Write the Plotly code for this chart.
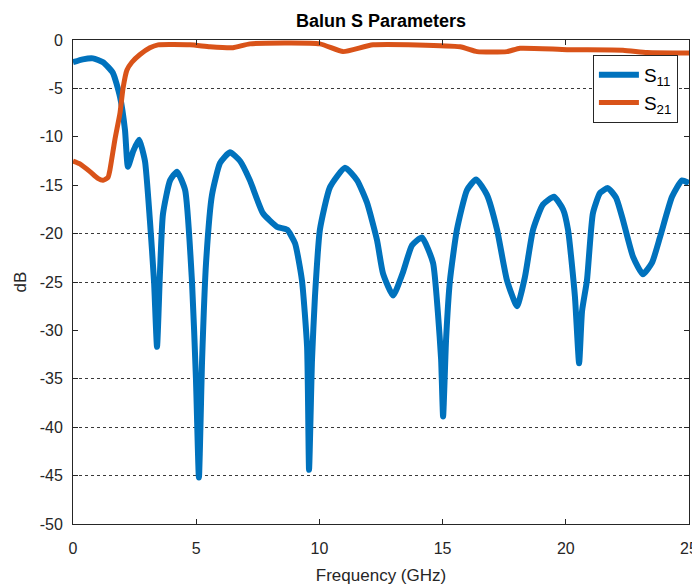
import plotly.graph_objects as go

# S11 (dB) vs frequency (GHz)
s11_freq = [0.0, 0.4, 0.81, 1.22, 1.62, 1.91, 2.11, 2.23, 2.44, 2.68, 2.92, 3.12, 3.29, 3.41, 3.53, 3.65,
            3.94, 4.22, 4.55, 4.83, 4.99, 5.11, 5.24, 5.40, 5.64, 5.97, 6.37, 6.78, 7.18, 7.71, 8.28,
            8.69, 9.01, 9.29, 9.50, 9.58, 9.70, 9.82, 10.02, 10.43, 11.04, 11.53, 11.93, 12.34, 12.58,
            12.99, 13.39, 13.76, 14.16, 14.61, 14.81, 14.94, 15.02, 15.14, 15.30, 15.58, 15.99, 16.36,
            16.80, 17.21, 17.61, 18.02, 18.34, 18.67, 19.07, 19.52, 19.89, 20.09, 20.37, 20.54, 20.66,
            20.86, 21.10, 21.39, 21.71, 22.04, 22.32, 22.73, 23.13, 23.50, 23.82, 24.31, 24.72, 25.0]
s11_db = [-2.3, -2.0, -1.9, -2.3, -3.4, -5.9, -9.3, -13.1, -11.5, -10.3, -12.5, -18.6, -25.0, -31.7, -24.0, -18.0,
          -14.5, -13.6, -15.5, -25.0, -35.0, -45.2, -33.0, -23.0, -16.0, -12.7, -11.6, -12.5, -14.5, -17.9, -19.3,
          -19.6, -21.0, -24.8, -31.7, -44.4, -33.0, -26.5, -19.6, -15.2, -13.2, -14.5, -16.8, -20.7, -24.1,
          -26.4, -24.0, -21.2, -20.4, -23.0, -28.2, -33.0, -38.9, -31.0, -24.8, -19.6, -15.5, -14.4,
          -16.0, -19.6, -24.8, -27.5, -24.5, -19.6, -17.0, -16.2, -17.5, -19.6, -26.5, -33.4, -28.0,
          -24.8, -17.9, -15.8, -15.3, -16.3, -18.6, -22.4, -24.2, -23.0, -20.4, -16.2, -14.5, -14.8]

# S21 (dB) vs frequency (GHz)
s21_freq = [0.0, 0.28, 0.69, 1.01, 1.22, 1.42, 1.50, 1.70, 1.91, 2.03, 2.19, 2.39, 2.72, 3.12, 3.45,
            4.75, 5.56, 6.49, 7.18, 10.02, 10.96, 12.18, 15.71, 16.40, 17.61, 18.14, 20.05, 22.32,
            23.30, 25.0]
s21_db = [-12.5, -12.8, -13.6, -14.3, -14.5, -14.2, -13.4, -10.3, -7.5, -5.0, -3.1, -2.3, -1.5, -0.8, -0.5,
          -0.5, -0.7, -0.8, -0.4, -0.4, -1.2, -0.5, -0.7, -1.2, -1.2, -0.85, -1.0, -1.05,
          -1.3, -1.35]

x_ticks = [0, 5, 10, 15, 20, 25]
x_ticklabels = ["0", "5", "10", "15", "20", "25"]
y_ticks = [0, -5, -10, -15, -20, -25, -30, -35, -40, -45, -50]
y_ticklabels = ["0", "-5", "-10", "-15", "-20", "-25", "-30", "-35", "-40", "-45", "-50"]
grid_vals = [-5, -20, -25, -35, -40, -45]

AX = "#262626"
FONT = "Liberation Sans Narrow, Arial Narrow, Liberation Sans, Arial, sans-serif"

fig = go.Figure()
fig.add_trace(go.Scatter(x=s11_freq, y=s11_db, mode="lines", name="S<sub>11</sub>",
                         line=dict(color="#0072BD", width=6, shape="spline", smoothing=0.5)))
fig.add_trace(go.Scatter(x=s21_freq, y=s21_db, mode="lines", name="S<sub>21</sub>",
                         line=dict(color="#D95319", width=5, shape="spline", smoothing=0.5)))

fig.update_layout(
    width=692, height=578,
    margin=dict(l=65, r=11, t=32, b=62),
    paper_bgcolor="white", plot_bgcolor="white",
    title=dict(text="<b>Balun S Parameters</b>", xref="paper", x=0.5, xanchor="center",
               yref="container", y=0.989, yanchor="top",
               font=dict(family="Liberation Sans, Arial, sans-serif", size=18, color="black")),
    font=dict(family=FONT, color=AX),
    xaxis=dict(range=[0, 25], tickvals=x_ticks, ticktext=x_ticklabels, ticks="inside", ticklen=5,
               tickcolor=AX, showline=True, linecolor=AX, linewidth=1, mirror="ticks", showgrid=False,
               zeroline=False, automargin=False, ticklabelstandoff=10, ticklabeloverflow="allow",
               tickfont=dict(size=16, color=AX, family=FONT),
               title=dict(text="Frequency (GHz)", font=dict(size=17, family=FONT, color=AX), standoff=12)),
    yaxis=dict(range=[-50, 0], tickvals=y_ticks, ticktext=y_ticklabels, ticks="inside", ticklen=5,
               tickcolor=AX, showline=True, linecolor=AX, linewidth=1, mirror="ticks", showgrid=False,
               zeroline=False, automargin=False, ticklabelstandoff=6,
               tickfont=dict(size=16, color=AX, family=FONT),
               title=dict(text="dB", font=dict(size=17, family=FONT, color=AX), standoff=8)),
    yaxis2=dict(range=[-50, 0], overlaying="y", tickvals=grid_vals, showticklabels=False,
                ticks="", showgrid=True, gridcolor="#3a3a3a", gridwidth=1, griddash="dot",
                zeroline=False, showline=False, automargin=False, layer="below traces"),
    legend=dict(x=0.982, y=0.969, xanchor="right", yanchor="top", bgcolor="white",
                bordercolor=AX, borderwidth=1, font=dict(size=19, family=FONT, color="black"),
                itemwidth=40),
    showlegend=True,
)
fig.add_trace(go.Scatter(x=[None], y=[None], yaxis="y2", showlegend=False, hoverinfo="skip"))

fig.write_html("out.html")
